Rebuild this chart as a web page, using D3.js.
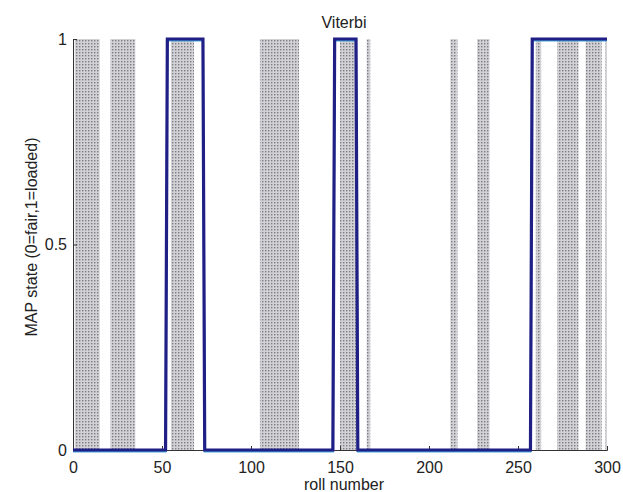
<!DOCTYPE html>
<meta charset="utf-8">
<script src="https://d3js.org/d3.v7.min.js"></script>
<style>
  body { margin: 0; background: #fff; }
  text { font-family: "Liberation Sans", Arial, sans-serif; fill: #222; }
</style>
<div id="chart"></div>
<script>
// loaded-die stretches (true state = 1), in roll numbers
var loadedStart = [1, 21, 55, 105, 150, 165, 212, 227, 260, 272, 288, 299];
var loadedEnd   = [15, 35, 68, 127, 159, 167, 216, 234, 263, 284, 297, 300];

// Viterbi MAP path, as [roll, state] corners
var viterbiRoll  = [0, 52, 53, 73, 74, 146, 147, 159, 160, 257, 258, 300];
var viterbiState = [0, 0, 1, 1, 0, 0, 1, 1, 0, 0, 1, 1];

var xTicks = [0, 50, 100, 150, 200, 250, 300];
var yTicks = [0, 0.5, 1];

var W = 623, H = 492;
var margin = {top: 39, right: 16, bottom: 42, left: 73};

var svg = d3.select("#chart").append("svg")
    .attr("width", W)
    .attr("height", H);

var x = d3.scaleLinear().domain([0, 300]).range([margin.left, W - margin.right]);
var y = d3.scaleLinear().domain([0, 1]).range([H - margin.bottom, margin.top]);

// dotted grey halftone for the shaded bands
var pat = svg.append("defs").append("pattern")
    .attr("id", "dots")
    .attr("patternUnits", "userSpaceOnUse")
    .attr("width", 3).attr("height", 3);
pat.append("rect").attr("width", 3).attr("height", 3).attr("fill", "#d2d2d6");
pat.append("rect").attr("x", 1).attr("y", 1).attr("width", 1.4).attr("height", 1.4).attr("fill", "#7c7c84");

svg.append("g")
  .selectAll("rect")
  .data(loadedStart)
  .enter()
  .append("rect")
    .attr("x", function(d) { return x(d); })
    .attr("y", y(1))
    .attr("width", function(d, i) { return Math.max(1.5, x(loadedEnd[i]) - x(d)); })
    .attr("height", y(0) - y(1))
    .attr("fill", "url(#dots)");

// axes (matlab style, ticks inside)
var xAxis = svg.append("g")
    .attr("transform", "translate(0," + y(0) + ")")
    .call(d3.axisBottom(x).tickValues(xTicks).tickSize(-4).tickPadding(12).tickFormat(d3.format("d")));
var yAxis = svg.append("g")
    .attr("transform", "translate(" + x(0) + ",0)")
    .call(d3.axisLeft(y).tickValues(yTicks).tickSize(-4).tickPadding(6).tickFormat(function(d) { return d; }));

[xAxis, yAxis].forEach(function(a) {
  a.select(".domain").attr("stroke", "#333").attr("stroke-width", 1);
  a.selectAll(".tick line").attr("stroke", "#333");
  a.selectAll("text").style("font-size", "16px").attr("fill", "#222");
});

// viterbi path: a faint cyan shadow then the navy line
var pts = viterbiRoll.map(function(r, i) { return [r, viterbiState[i]]; });
var line = d3.line()
    .x(function(d) { return x(d[0]); })
    .y(function(d) { return y(d[1]); });

svg.append("path")
    .datum(pts)
    .attr("d", line)
    .attr("transform", "translate(0,1.5)")
    .attr("fill", "none")
    .attr("stroke", "#49a6dc")
    .attr("stroke-width", 2);

svg.append("path")
    .datum(pts)
    .attr("d", line)
    .attr("fill", "none")
    .attr("stroke", "#1f1f86")
    .attr("stroke-width", 3.2);

// labels
svg.append("text")
    .attr("x", 344).attr("y", 28)
    .attr("text-anchor", "middle")
    .style("font-size", "16px")
    .text("Viterbi");

svg.append("text")
    .attr("x", 344).attr("y", 490)
    .attr("text-anchor", "middle")
    .style("font-size", "16px")
    .text("roll number");

svg.append("text")
    .attr("transform", "translate(37,237) rotate(-90)")
    .attr("text-anchor", "middle")
    .style("font-size", "16px")
    .text("MAP state (0=fair,1=loaded)");
</script>
